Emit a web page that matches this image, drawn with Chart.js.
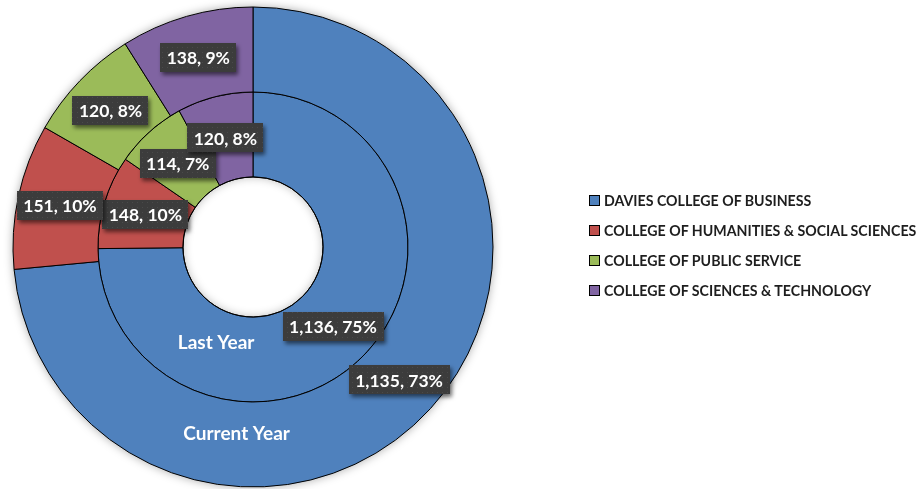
<!DOCTYPE html>
<html><head><meta charset="utf-8">
<script src="https://cdn.jsdelivr.net/npm/chart.js@4/dist/chart.umd.min.js"></script>
<style>
html,body{margin:0;padding:0;background:#fff;}
#wrap{position:relative;width:924px;height:489px;overflow:hidden;}
#legend{position:absolute;left:589px;top:0;font-family:Lato,"Open Sans",sans-serif;font-weight:700;font-size:14.2px;color:#1e1e1e;}
.item{position:absolute;left:0;height:16px;white-space:nowrap;display:flex;align-items:center;}
.sw{width:9px;height:9px;border:1px solid #000;margin-right:4px;flex:none;}
</style></head><body>
<div id="wrap"><canvas id="c" width="924" height="489"></canvas><div id="legend"></div></div>
<script>
const categories = ['DAVIES COLLEGE OF BUSINESS','COLLEGE OF HUMANITIES & SOCIAL SCIENCES','COLLEGE OF PUBLIC SERVICE','COLLEGE OF SCIENCES & TECHNOLOGY'];
const seriesNames = ['Current Year','Last Year'];
const currentYear = [1135, 151, 120, 138];
const lastYear = [1136, 148, 114, 120];
const currentPct = [73, 10, 8, 9];
const lastPct = [75, 10, 7, 8];
const colors = ['#4F81BD','#C0504D','#9BBB59','#8064A2'];

// legend (HTML)
const leg = document.getElementById('legend');
categories.forEach((c,i)=>{
  const d = document.createElement('div');
  d.className='item';
  d.style.top = (192.5 + i*30) + 'px';
  const s = document.createElement('span'); s.className='sw'; s.style.background=colors[i];
  const t = document.createElement('span'); t.textContent = c;
  d.appendChild(s); d.appendChild(t); leg.appendChild(d);
});

function makePattern(ctx){
  const pc = document.createElement('canvas'); pc.width=5; pc.height=5;
  const p = pc.getContext('2d');
  p.fillStyle='#3c3c3c'; p.fillRect(0,0,5,5);
  p.fillStyle='#4a4a4a'; p.fillRect(2,2,1,1);
  return ctx.createPattern(pc,'repeat');
}

const pctLists = [currentPct, lastPct];
const seriesLabelAngles = [95, 111];

const deco = {
  id:'deco',
  beforeDatasetsDraw(chart){
    const a = chart.getDatasetMeta(0).data[0];
    const ctx = chart.ctx;
    ctx.save();
    ctx.shadowColor='rgba(0,0,0,0.35)'; ctx.shadowBlur=10;
    ctx.fillStyle='#fff';
    ctx.beginPath(); ctx.arc(a.x,a.y,a.outerRadius,0,Math.PI*2); ctx.fill();
    ctx.restore();
  },
  afterDatasetsDraw(chart){
    const ctx = chart.ctx;
    const inner = chart.getDatasetMeta(1).data[0];
    const cx = inner.x, cy = inner.y, ir = inner.innerRadius;
    // inner shadow in hole
    ctx.save();
    ctx.beginPath(); ctx.arc(cx,cy,ir-0.5,0,Math.PI*2); ctx.clip();
    ctx.shadowColor='rgba(0,0,0,0.28)'; ctx.shadowBlur=10;
    ctx.beginPath(); ctx.arc(cx,cy,ir+40,0,Math.PI*2); ctx.arc(cx,cy,ir,0,Math.PI*2,true);
    ctx.fillStyle='#000'; ctx.fill();
    ctx.restore();
    ctx.save();
    ctx.strokeStyle='#000'; ctx.lineWidth=1;
    ctx.beginPath(); ctx.arc(cx,cy,ir,0,Math.PI*2); ctx.stroke();
    ctx.restore();

    // series name labels
    ctx.save();
    ctx.font='bold 19px Lato, "Open Sans", sans-serif';
    ctx.fillStyle='#fff'; ctx.textAlign='center'; ctx.textBaseline='middle';
    [0,1].forEach(di=>{
      const el = chart.getDatasetMeta(di).data[0];
      const r = (el.innerRadius + el.outerRadius)/2 - 9.5;
      const ang = seriesLabelAngles[di]*Math.PI/180;
      ctx.fillText(chart.data.datasets[di].label, el.x + r*Math.cos(ang), el.y + r*Math.sin(ang));
    });
    ctx.restore();

    // data labels
    const pat = makePattern(ctx);
    ctx.save();
    ctx.font='bold 17.5px Lato, "Open Sans", sans-serif';
    ctx.textAlign='center'; ctx.textBaseline='middle';
    [1,0].forEach(di=>{
      const meta = chart.getDatasetMeta(di);
      const ds = chart.data.datasets[di];
      meta.data.forEach((el,i)=>{
        const p = el.tooltipPosition();
        const txt = ds.data[i].toLocaleString('en-US') + ', ' + pctLists[di][i] + '%';
        const w = ctx.measureText(txt).width + 13, h = 29;
        ctx.save();
        ctx.shadowColor='rgba(0,0,0,0.55)'; ctx.shadowBlur=4; ctx.shadowOffsetX=2; ctx.shadowOffsetY=3;
        ctx.fillStyle=pat;
        ctx.fillRect(Math.round(p.x - w/2), Math.round(p.y - h/2), Math.round(w), h);
        ctx.restore();
        ctx.fillStyle='#fff';
        ctx.fillText(txt, p.x, p.y + 1);
      });
    });
    ctx.restore();
  }
};

new Chart(document.getElementById('c'), {
  type:'doughnut',
  data:{
    labels: categories,
    datasets:[
      {label: seriesNames[0], data: currentYear, backgroundColor: colors, borderColor:'#000', borderWidth:1},
      {label: seriesNames[1], data: lastYear, backgroundColor: colors, borderColor:'#000', borderWidth:1}
    ]
  },
  options:{
    responsive:false,
    animation:false,
    radius:240,
    cutout:'29.1667%',
    layout:{padding:{left:0,right:418,top:5,bottom:0}},
    plugins:{legend:{display:false}, tooltip:{enabled:false}}
  },
  plugins:[deco]
});
</script>
</body></html>
